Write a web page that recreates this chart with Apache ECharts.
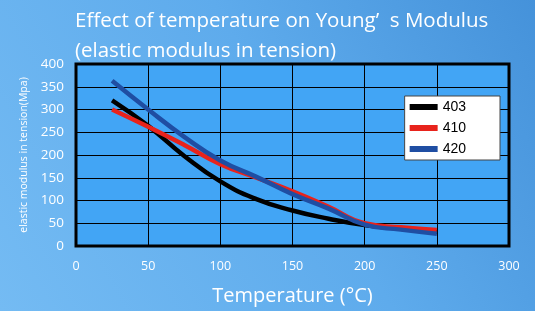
<!DOCTYPE html>
<html>
<head>
<meta charset="utf-8">
<script src="https://cdn.jsdelivr.net/npm/echarts@6/dist/echarts.min.js"></script>
<style>
  html, body { margin: 0; padding: 0; }
  #chart { width: 535px; height: 311px; }
</style>
</head>
<body>
<div id="chart"></div>
<script>
// temperatures (°C)
const temps = [25, 50, 75, 100, 125, 150, 175, 200, 225, 250];
// young's modulus per grade (Mpa)
const s403 = [320, 264, 198, 142, 103, 78, 60, 46, 38, 31];
const s410 = [300, 262, 222, 180, 150, 120, 86, 50, 41, 35];
const s420 = [363, 300, 240, 188, 152, 114, 82, 47, 36, 27];

const xTicks = [0, 50, 100, 150, 200, 250, 300];
const yTicks = [0, 50, 100, 150, 200, 250, 300, 350, 400];

const pair = (arr) => temps.map((t, i) => [t, arr[i]]);

const chart = echarts.init(document.getElementById('chart'));

const option = {
  animation: false,
  backgroundColor: new echarts.graphic.LinearGradient(1, 0, 0, 1, [
    { offset: 0, color: '#4592da' },
    { offset: 0.45, color: '#5eabec' },
    { offset: 1, color: '#74bbf3' }
  ]),
  textStyle: { fontFamily: 'Open Sans' },
  title: {
    text: 'Effect of temperature on Young’  s Modulus\n(elastic modulus in tension)',
    left: 70,
    top: 1,
    textStyle: {
      color: '#fff',
      fontSize: 20.5,
      fontWeight: 'normal',
      lineHeight: 30,
      fontFamily: 'Open Sans'
    }
  },
  legend: {
    orient: 'vertical',
    right: 35,
    top: 96,
    backgroundColor: '#fff',
    borderColor: '#444',
    borderWidth: 1,
    borderRadius: 0,
    padding: [4, 34, 4, 5],
    itemWidth: 28,
    itemHeight: 6,
    itemGap: 7,
    icon: 'rect',
    textStyle: { color: '#000', fontSize: 14, fontFamily: 'Liberation Sans' },
    data: ['403', '410', '420']
  },
  grid: {
    left: 76,
    right: 26,
    top: 64,
    bottom: 63,
    show: true,
    backgroundColor: '#42a5f5',
    borderColor: '#000',
    borderWidth: 3
  },
  xAxis: {
    type: 'value',
    min: xTicks[0],
    max: xTicks[xTicks.length - 1],
    interval: 50,
    name: 'Temperature (°C)',
    nameLocation: 'middle',
    nameGap: 40,
    nameTextStyle: { color: '#fff', fontSize: 20 },
    axisLine: { show: false },
    axisTick: { show: false },
    axisLabel: { color: '#fff', fontSize: 12.5, margin: 14 },
    splitLine: { show: true, lineStyle: { color: '#000', width: 1 } }
  },
  yAxis: {
    type: 'value',
    min: yTicks[0],
    max: yTicks[yTicks.length - 1],
    interval: 50,
    name: 'elastic modulus in tension(Mpa)',
    nameLocation: 'middle',
    nameGap: 45,
    nameTextStyle: { color: '#fff', fontSize: 10.5 },
    axisLine: { show: false },
    axisTick: { show: false },
    axisLabel: { color: '#fff', fontSize: 13.5, margin: 12 },
    splitLine: { show: true, lineStyle: { color: '#000', width: 1 } }
  },
  series: [
    {
      name: '403', type: 'line', smooth: true, showSymbol: false,
      itemStyle: { color: '#000' },
      lineStyle: { color: '#000', width: 4.5 },
      data: pair(s403)
    },
    {
      name: '410', type: 'line', smooth: true, showSymbol: false,
      itemStyle: { color: '#e8231c' },
      lineStyle: { color: '#e8231c', width: 4.5 },
      data: pair(s410)
    },
    {
      name: '420', type: 'line', smooth: true, showSymbol: false,
      itemStyle: { color: '#1f4ea3' },
      lineStyle: { color: '#1f4ea3', width: 4.5 },
      data: pair(s420)
    }
  ]
};

chart.setOption(option);
</script>
</body>
</html>
